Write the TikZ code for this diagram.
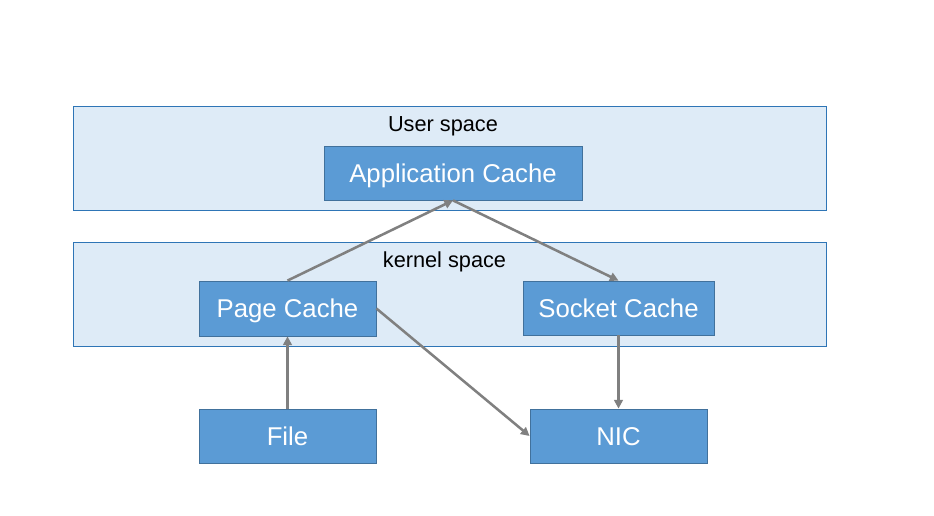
\documentclass[tikz,border=0pt]{standalone}
\usepackage{fontspec}
\setmainfont{Liberation Sans}
\usepackage{tikz}
\usetikzlibrary{arrows.meta,positioning}
\definecolor{panelfill}{HTML}{DEEBF7}
\definecolor{paneldraw}{HTML}{2E75B6}
\definecolor{boxfill}{HTML}{5B9BD5}
\definecolor{boxdraw}{HTML}{41719C}
\definecolor{arrowgray}{HTML}{808080}
\begin{document}
\begin{tikzpicture}[
  x=0.75pt, y=-0.75pt,
  panel/.style={draw=paneldraw, fill=panelfill, line width=0.6pt, minimum width=564.75pt, minimum height=78pt, inner sep=0pt},
  b/.style={draw=boxdraw, fill=boxfill, line width=0.6pt, text=white, inner sep=0pt, minimum height=40.5pt, text height=13.8pt, text depth=0pt, font=\fontsize{19.3}{23}\selectfont},
  lbl/.style={font=\fontsize{16.3}{19}\selectfont, inner sep=0pt, text height=11.7pt, text depth=0pt},
  pf/.style={draw=arrowgray, line width=1.9pt, -{Triangle[length=6.5pt, width=6.5pt]}}
]
\useasboundingbox (0,0) rectangle (934,516);
% the two layers
\node[panel] (user) at (449.5,158) {};
\node[panel] (kern) at (449.5,294) {};
\node[lbl] (ulbl) at (443,123.5) {User space};
\node[lbl] (klbl) at (444.5,259.5) {kernel space};
% caches
\node[b, minimum width=193.5pt] (app) at (453,173) {Application Cache};
\node[b, minimum width=132.75pt, minimum height=41.25pt] (page) at (287.5,308.5) {Page Cache};
\node[b, minimum width=143.25pt] (sock) at (618.5,308) {Socket Cache};
\node[b, minimum width=132.75pt] (file) at (287.5,436) {File};
\node[b, minimum width=132.75pt] (nic) at (618.5,436) {NIC};

\draw[pf] (file)--(page);
\draw[pf] (page.north)--(app.south);
\draw[pf] (app.south)--(sock.north);
\draw[pf] (page.east)--(nic.west);
\draw[pf] (sock)--(nic);
\end{tikzpicture}
\end{document}
